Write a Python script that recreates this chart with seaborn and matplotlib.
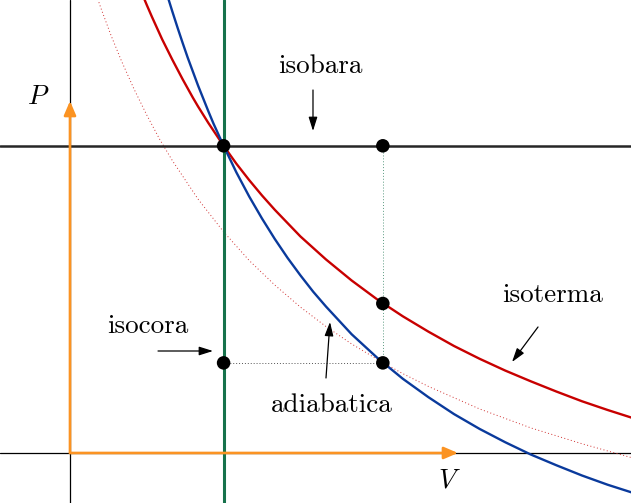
import matplotlib
matplotlib.use("Agg")
import matplotlib.pyplot as plt
import seaborn as sns

# P-V diagram: isobara, isocora, isoterma, adiabatica
ISOBAR_P = 6.0
ISOCHORE_V = 3.0

# isoterma (red, solid)
iso_V = [1.4, 1.5, 1.6, 1.7, 1.8, 1.9, 2.0, 2.1, 2.2, 2.3, 2.4, 2.5, 2.6, 2.7, 2.8,
         2.9, 3.0, 3.25, 3.5, 3.75, 4.0, 4.5, 5.0, 5.5, 6.0, 6.5, 7.0, 7.5, 8.0,
         8.5, 9.0, 9.5, 10.0, 10.5, 11.0]
iso_P = [8.99, 8.75, 8.52, 8.30, 8.08, 7.88, 7.68, 7.49, 7.30, 7.12, 6.94, 6.77,
         6.61, 6.45, 6.30, 6.15, 6.00, 5.65, 5.33, 5.03, 4.75, 4.23, 3.78, 3.37,
         3.00, 2.67, 2.37, 2.09, 1.84, 1.61, 1.40, 1.20, 1.01, 0.84, 0.68]

# adiabatica (blue)
adi_V = [1.8, 1.9, 2.0, 2.1, 2.2, 2.3, 2.4, 2.5, 2.6, 2.7, 2.8, 2.9, 3.0, 3.25,
         3.5, 3.75, 4.0, 4.25, 4.5, 4.75, 5.0, 5.5, 6.0, 6.5, 7.0, 7.5, 8.0, 8.5,
         9.0, 9.5, 10.0, 10.5, 11.0]
adi_P = [9.28, 8.94, 8.62, 8.31, 8.01, 7.72, 7.45, 7.18, 6.93, 6.68, 6.44, 6.22,
         6.00, 5.48, 5.01, 4.58, 4.18, 3.81, 3.47, 3.15, 2.86, 2.32, 1.86, 1.45,
         1.09, 0.76, 0.47, 0.21, -0.03, -0.24, -0.44, -0.62, -0.78]

# lower isotherm (red, dotted)
iso2_V = [0.4, 0.6, 0.8, 1.0, 1.25, 1.5, 1.75, 2.0, 2.5, 3.0, 3.5, 4.0, 4.5,
          5.0, 5.5, 6.0, 6.5, 7.0, 8.0, 9.0, 10.0, 11.0]
iso2_P = [9.28, 8.70, 8.16, 7.67, 7.11, 6.60, 6.13, 5.71, 4.96, 4.32, 3.76, 3.28, 2.85,
          2.47, 2.13, 1.83, 1.55, 1.30, 0.86, 0.49, 0.18, -0.10]

# state points
pts_V = [3.0, 6.11, 6.11, 6.11, 3.0]
pts_P = [6.0, 6.0, 2.92, 1.76, 1.76]

RED = "#c80000"
BLUE = "#0a3a9c"
GREEN = "#17724c"
ORANGE = "#fb9322"

sns.set_theme(style="white")
plt.rcParams["font.family"] = ["cmr10", "DejaVu Serif"]
plt.rcParams["mathtext.fontset"] = "cm"
plt.rcParams["text.color"] = "black"

fig = plt.figure(figsize=(6.31, 5.03), dpi=100)
ax = fig.add_axes([0, 0, 1, 1])
ax.set_xlim(-1.367, 10.957)
ax.set_ylim(-0.977, 8.848)
ax.axis("off")

# coordinate axes
ax.axvline(0, color="black", lw=0.9, zorder=1)
ax.axhline(0, color="black", lw=0.9, zorder=1)

# dotted guides
ax.plot([pts_V[3], pts_V[1]], [pts_P[3], pts_P[1]], color="#5a9a80", lw=0.7,
        linestyle=(0, (1, 2)), zorder=1)
ax.plot([pts_V[4], pts_V[3]], [pts_P[4], pts_P[3]], color="#555555", lw=0.7,
        linestyle=(0, (1, 2)), zorder=1)

sns.lineplot(x=iso2_V, y=iso2_P, sort=False, estimator=None, ax=ax, color="#d03030",
             linewidth=0.7, linestyle=(0, (1, 2.5)), zorder=2)
ax.axhline(ISOBAR_P, color="#262626", lw=1.8, zorder=2)
sns.lineplot(x=iso_V, y=iso_P, sort=False, estimator=None, ax=ax, color=RED,
             linewidth=1.7, zorder=3)
sns.lineplot(x=adi_V, y=adi_P, sort=False, estimator=None, ax=ax, color=BLUE,
             linewidth=1.7, zorder=3)
ax.axvline(ISOCHORE_V, color=GREEN, lw=2.2, zorder=4)

# orange axis arrows
orange_kw = dict(arrowstyle="-|>,head_length=0.7,head_width=0.3", color=ORANGE,
                 lw=1.9, mutation_scale=12, shrinkA=0, shrinkB=0)
ax.annotate("", xy=(0, 6.875), xytext=(0, 0), arrowprops=orange_kw, zorder=5)
ax.annotate("", xy=(7.578, 0), xytext=(0, 0), arrowprops=orange_kw, zorder=5)

sns.scatterplot(x=pts_V, y=pts_P, ax=ax, s=95, color="black", edgecolor="none",
                zorder=6)

# labels with arrows
arrow_kw = dict(arrowstyle="-|>,head_length=0.7,head_width=0.22", color="black",
                lw=0.9, mutation_scale=12, shrinkA=0, shrinkB=0)
ax.annotate("", xy=(4.746, 6.289), xytext=(4.746, 7.09), arrowprops=arrow_kw)
ax.annotate("", xy=(2.793, 1.992), xytext=(1.719, 1.992), arrowprops=arrow_kw)
ax.annotate("", xy=(8.633, 1.777), xytext=(9.141, 2.461), arrowprops=arrow_kw)
ax.annotate("", xy=(5.078, 2.559), xytext=(5.0, 1.465), arrowprops=arrow_kw)

fs = 19.5
ax.text(4.883, 7.42, "isobara", ha="center", va="baseline", fontsize=fs)
ax.text(1.523, 2.34, "isocora", ha="center", va="baseline", fontsize=fs)
ax.text(9.434, 2.95, "isoterma", ha="center", va="baseline", fontsize=fs)
ax.text(5.117, 0.80, "adiabatica", ha="center", va="baseline", fontsize=fs)
ax.text(-0.625, 6.816, r"$P$", ha="center", va="baseline", fontsize=fs)
ax.text(7.402, -0.684, r"$V$", ha="center", va="baseline", fontsize=fs)

fig.savefig("out.png", dpi=100)
